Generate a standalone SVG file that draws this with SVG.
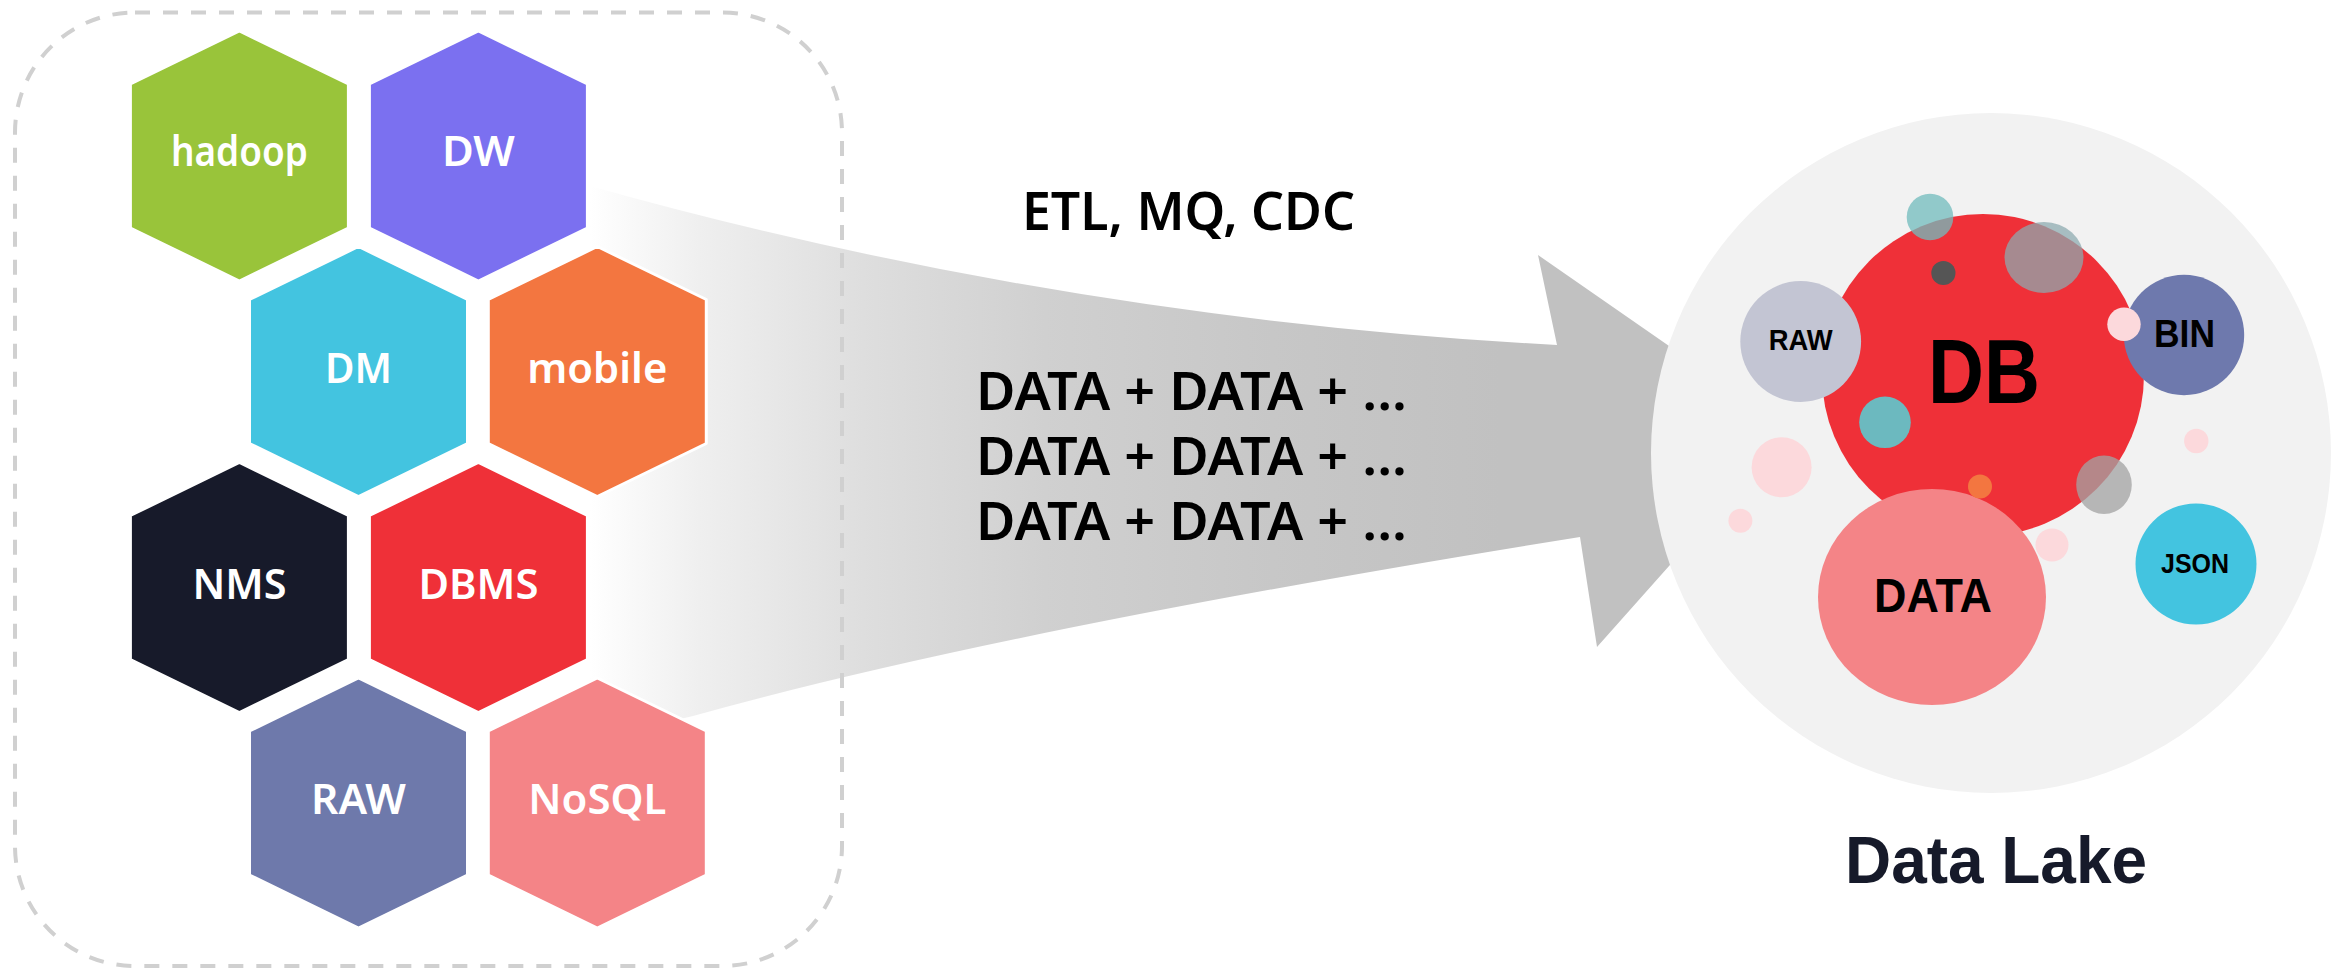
<svg xmlns="http://www.w3.org/2000/svg" width="2338" height="970" viewBox="0 0 2338 970">
<defs>
<style>
.hex{stroke:#ffffff;stroke-width:3;stroke-linejoin:round}
.ht{font-family:"Noto Sans","DejaVu Sans",sans-serif;font-size:41px;font-weight:600;fill:#ffffff;text-anchor:middle}
.mt{font-family:"Noto Sans","DejaVu Sans",sans-serif;font-weight:600;fill:#000000;text-anchor:middle}
.ct{font-family:"Liberation Sans",Arial,sans-serif;font-weight:700;fill:#000000;text-anchor:middle}
</style>
<linearGradient id="arrowGrad" gradientUnits="userSpaceOnUse" x1="590" y1="0" x2="1500" y2="0">
<stop offset="0" stop-color="#ffffff"/>
<stop offset="0.12" stop-color="#efefef"/>
<stop offset="0.3" stop-color="#dedede"/>
<stop offset="0.5" stop-color="#d0d0d0"/>
<stop offset="0.75" stop-color="#c7c7c7"/>
<stop offset="1" stop-color="#c1c1c1"/>
</linearGradient>
<path id="hexShape" d="M0,-125 L109,-72 L109,72 L0,125 L-109,72 L-109,-72 Z"/>
</defs>
<rect width="2338" height="970" fill="#ffffff"/>

<g id="connectors">
<path id="big-arrow" d="M590,186 Q1060,318 1557,345 L1538,255 L1790,430 L1597,647 L1580,537 Q1000,630 693,716 L590,740 Z" fill="url(#arrowGrad)"/>
</g>

<g id="source-box">
<rect x="15" y="12.5" width="827" height="953.5" rx="120" ry="120" fill="none" stroke="#d0d0d0" stroke-width="4" stroke-dasharray="15 13"/>
</g>

<g id="hex-hadoop">
<use href="#hexShape" x="239.4" y="156" class="hex" fill="#99c43a"/>
<text x="239.4" y="166" class="ht" textLength="137" lengthAdjust="spacingAndGlyphs">hadoop</text>
</g>
<g id="hex-dw">
<use href="#hexShape" x="478.4" y="156" class="hex" fill="#7b70f0"/>
<text x="478.4" y="166" class="ht" textLength="73" lengthAdjust="spacingAndGlyphs">DW</text>
</g>
<g id="hex-dm">
<use href="#hexShape" x="358.5" y="371.5" class="hex" fill="#43c4e0"/>
<text x="358.5" y="383" class="ht" textLength="67" lengthAdjust="spacingAndGlyphs">DM</text>
</g>
<g id="hex-mobile">
<use href="#hexShape" x="597.3" y="371.5" class="hex" fill="#f37640"/>
<text x="597.3" y="383" class="ht" textLength="140" lengthAdjust="spacingAndGlyphs">mobile</text>
</g>
<g id="hex-nms">
<use href="#hexShape" x="239.4" y="587.5" class="hex" fill="#171a2a"/>
<text x="239.4" y="599" class="ht" textLength="94" lengthAdjust="spacingAndGlyphs">NMS</text>
</g>
<g id="hex-dbms">
<use href="#hexShape" x="478.4" y="587.5" class="hex" fill="#ef3038"/>
<text x="478.4" y="599" class="ht" textLength="120" lengthAdjust="spacingAndGlyphs">DBMS</text>
</g>
<g id="hex-raw">
<use href="#hexShape" x="358.5" y="803" class="hex" fill="#6e79ab"/>
<text x="358.5" y="814" class="ht" textLength="95" lengthAdjust="spacingAndGlyphs">RAW</text>
</g>
<g id="hex-nosql">
<use href="#hexShape" x="597.3" y="803" class="hex" fill="#f48487"/>
<text x="597.3" y="814" class="ht" textLength="138" lengthAdjust="spacingAndGlyphs">NoSQL</text>
</g>

<g id="arrow-labels">
<text x="1188.5" y="230" class="mt" font-size="53" textLength="333" lengthAdjust="spacingAndGlyphs">ETL, MQ, CDC</text>
<text x="1191.5" y="410" class="mt" font-size="52" textLength="431" lengthAdjust="spacingAndGlyphs">DATA + DATA + ...</text>
<text x="1191.5" y="475" class="mt" font-size="52" textLength="431" lengthAdjust="spacingAndGlyphs">DATA + DATA + ...</text>
<text x="1191.5" y="540" class="mt" font-size="52" textLength="431" lengthAdjust="spacingAndGlyphs">DATA + DATA + ...</text>
</g>

<g id="data-lake">
<circle cx="1991" cy="453" r="340" fill="#f2f2f2"/>
<ellipse cx="1781.6" cy="467.3" rx="30" ry="30" fill="#fcd9dc"/>
<circle cx="1740.4" cy="520.8" r="12" fill="#fcd9dc"/>
<circle cx="2196.3" cy="441" r="12.2" fill="#fcd9dc"/>
<circle id="db-circle" cx="1983" cy="375" r="161" fill="#ef3038"/>
<circle cx="1930" cy="217" r="23.3" fill="rgb(115,188,189)" fill-opacity="0.76"/>
<ellipse cx="2044" cy="257.5" rx="39.5" ry="35.5" fill="rgb(140,170,175)" fill-opacity="0.74"/>
<circle cx="1943.4" cy="273" r="12.1" fill="#555555"/>
<circle cx="1885" cy="422.3" r="25.8" fill="#6cb9bf"/>
<circle id="raw-circle" cx="1800.7" cy="341.5" r="60.4" fill="#c3c5d3"/>
<circle id="bin-circle" cx="2184" cy="335" r="60.2" fill="#6e79ad"/>
<circle cx="2124" cy="324.3" r="16.7" fill="#fcd9dc"/>
<ellipse cx="2104" cy="484.7" rx="27.8" ry="29.3" fill="rgb(163,163,163)" fill-opacity="0.76"/>
<circle cx="2052" cy="545" r="16.5" fill="#fcd9dc"/>
<ellipse id="data-circle" cx="1932" cy="597" rx="114" ry="108" fill="#f48487"/>
<circle cx="1980" cy="486.5" r="12" fill="#f37640"/>
<circle id="json-circle" cx="2196" cy="564" r="60.5" fill="#43c4e0"/>
<text x="1984" y="403" class="ct" font-size="90" textLength="112" lengthAdjust="spacingAndGlyphs">DB</text>
<text x="1800.7" y="350" class="ct" font-size="29" textLength="64" lengthAdjust="spacingAndGlyphs">RAW</text>
<text x="2184.5" y="347" class="ct" font-size="38" textLength="61" lengthAdjust="spacingAndGlyphs">BIN</text>
<text x="2195" y="573" class="ct" font-size="28" textLength="68" lengthAdjust="spacingAndGlyphs">JSON</text>
<text x="1933" y="612" class="ct" font-size="49" textLength="118" lengthAdjust="spacingAndGlyphs">DATA</text>
<text x="1996" y="883" class="ct" font-size="66" style="fill:#161a2a" textLength="302" lengthAdjust="spacingAndGlyphs">Data Lake</text>
</g>
</svg>
